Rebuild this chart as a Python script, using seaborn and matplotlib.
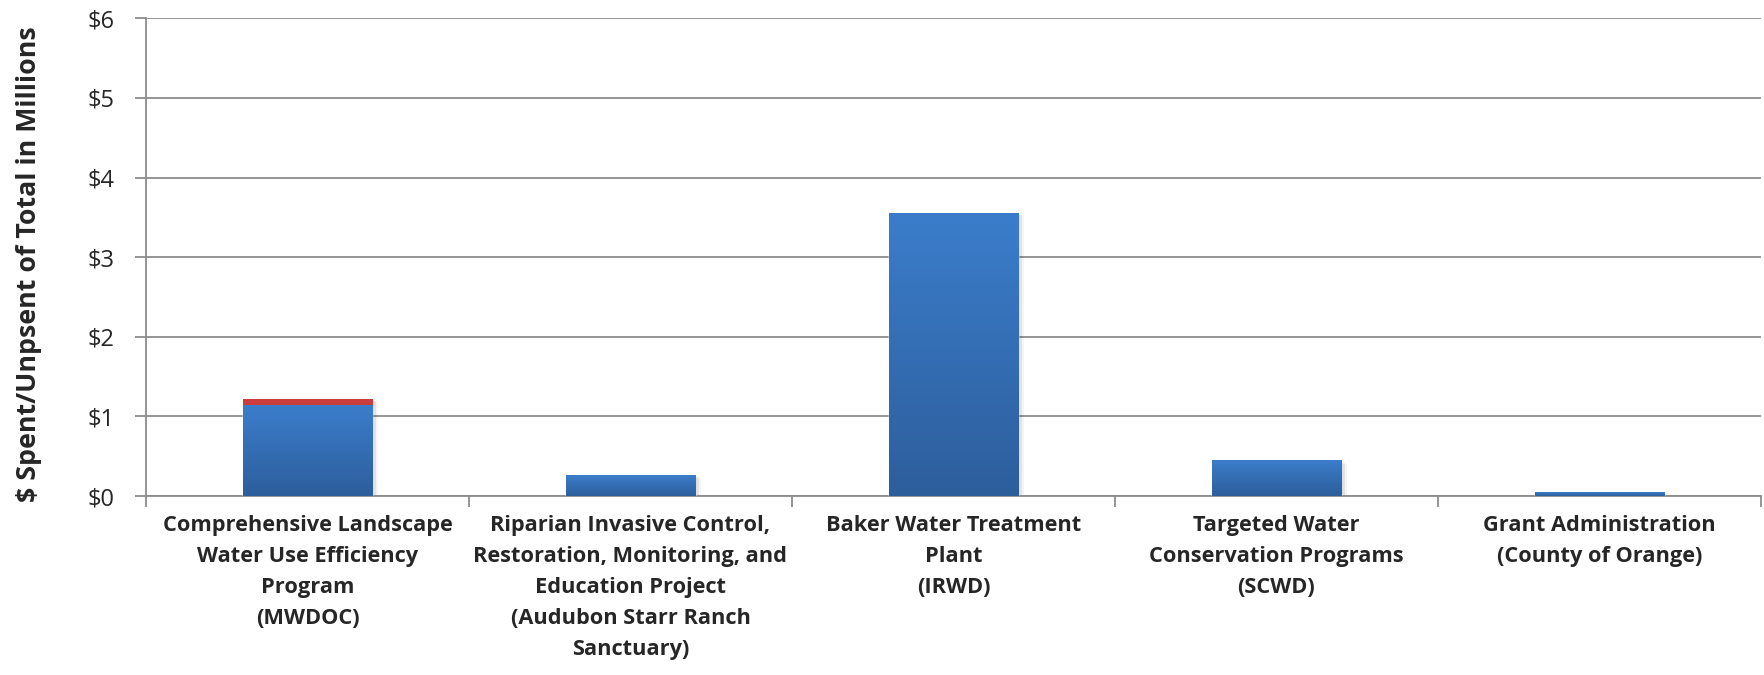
import numpy as np
import pandas as pd
import seaborn as sns
import matplotlib.pyplot as plt
from matplotlib.colors import LinearSegmentedColormap
from matplotlib.patches import Rectangle

# Chart data (millions of dollars)
projects = [
    'Comprehensive Landscape\nWater Use Efficiency\nProgram\n(MWDOC)',
    'Riparian Invasive Control,\nRestoration, Monitoring, and\nEducation Project\n(Audubon Starr Ranch\nSanctuary)',
    'Baker Water Treatment\nPlant\n(IRWD)',
    'Targeted Water\nConservation Programs\n(SCWD)',
    'Grant Administration\n(County of Orange)',
]
spent = [1.13, 0.26, 3.55, 0.44, 0.04]
unspent = [0.085, 0.0, 0.0, 0.0, 0.0]
y_ticks = [0, 1, 2, 3, 4, 5, 6]
y_labels = ['$0', '$1', '$2', '$3', '$4', '$5', '$6']

df = pd.DataFrame({'Project': projects, 'Spent': spent, 'Unspent': unspent})
df['Total'] = df['Spent'] + df['Unspent']

sns.set_style('white')
plt.rcParams['font.family'] = ['Open Sans', 'DejaVu Sans']

fig = plt.figure(figsize=(17.65, 6.75), dpi=100)
ax = fig.add_axes([0.0827, 0.265, 0.915, 0.708])

# stacked: total (red) behind, spent (blue) in front
sns.barplot(data=df, x='Project', y='Total', color='#C0393B', width=0.4,
            saturation=1, ax=ax, zorder=3)
sns.barplot(data=df, x='Project', y='Spent', color='#3A7BC8', width=0.4,
            saturation=1, ax=ax, zorder=4)

blue_cm = LinearSegmentedColormap.from_list('b', ['#2D5E9C', '#3B7DCB'])
red_cm = LinearSegmentedColormap.from_list('r', ['#A82C2C', '#CC3E3E'])
grad = np.linspace(0, 1, 256).reshape(-1, 1)

n = len(projects)
for i, p in enumerate(ax.patches):
    x0, y0 = p.get_x(), p.get_y()
    w, h = p.get_width(), p.get_height()
    if h <= 0:
        continue
    is_red = i < n
    cm = red_cm if is_red else blue_cm
    z = 3.5 if is_red else 4.5
    ax.imshow(grad, extent=[x0, x0 + w, y0, y0 + h], origin='lower',
              aspect='auto', cmap=cm, zorder=z)
    if is_red:
        # soft shadow behind whole stack
        for k, a in enumerate([0.10, 0.07, 0.04]):
            off = 0.006 * (k + 1)
            ax.add_patch(Rectangle((x0 + off, y0 - off * 2), w, h, color='black',
                                   alpha=a, lw=0, zorder=2))

ax.set_xlim(-0.5, n - 0.5)
ax.set_ylim(0, 6)
ax.set_yticks(y_ticks)
ax.set_yticklabels(y_labels, fontsize=17)
ax.yaxis.grid(True, color='#8C8C8C', lw=1.3, zorder=0)
ax.set_axisbelow(True)

for s in ['top', 'right']:
    ax.spines[s].set_visible(False)
ax.spines['left'].set_color('#8C8C8C')
ax.spines['left'].set_linewidth(1.3)
ax.spines['bottom'].set_color('#8C8C8C')
ax.spines['bottom'].set_linewidth(1.3)

ax.tick_params(axis='y', left=True, length=8, width=1.3, color='#8C8C8C', pad=14.5)
ax.set_xticks(range(n))
ax.set_xticklabels(projects, fontsize=15.7, fontweight='bold', linespacing=1.62)
ax.tick_params(axis='x', bottom=False, pad=10)
# category separator ticks
ax.set_xticks(np.arange(-0.5, n, 1), minor=True)
ax.tick_params(axis='x', which='minor', bottom=True, length=8, width=1.3, color='#8C8C8C')

ax.set_xlabel('')
ax.set_ylabel('$ Spent/Unpsent of Total in Millions', fontsize=19.3, fontweight='bold',
              labelpad=33)
ax.yaxis.label.set_y(0.485)

fig.savefig('out.png', dpi=100)
